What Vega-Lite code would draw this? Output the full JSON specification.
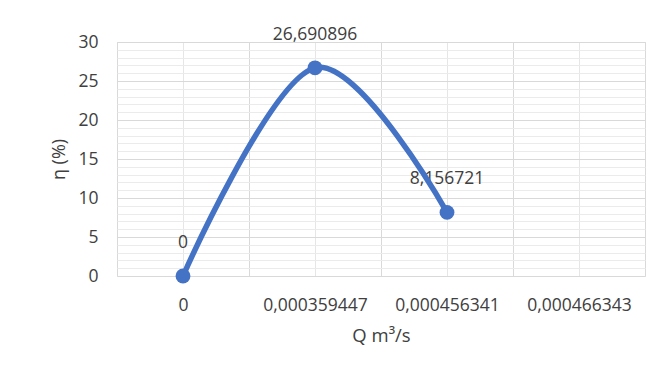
{
  "$schema": "https://vega.github.io/schema/vega-lite/v6.json",
  "width": 528,
  "height": 234,
  "autosize": "none",
  "padding": {"left": 117, "top": 42, "right": 24, "bottom": 113},
  "background": "white",
  "config": {
    "font": "Open Sans",
    "view": {"stroke": "#d9d9d9", "strokeWidth": 1},
    "axis": {"labelColor": "#404040", "titleColor": "#404040", "labelFontSize": 17.5, "titleFontWeight": "normal"}
  },
  "data": {
    "values": [
      {"Q": "0", "eta": 0, "label": "0"},
      {"Q": "0,000359447", "eta": 26.690896, "label": "26,690896"},
      {"Q": "0,000456341", "eta": 8.156721, "label": "8,156721"}
    ]
  },
  "layer": [
    {
      "mark": {"type": "text", "fontSize": 17.5, "color": "#404040", "dy": -33, "font": "Open Sans"},
      "encoding": {
        "x": {
          "field": "Q", "type": "nominal", "sort": null, "bandPosition": 0.5,
          "scale": {"type": "band", "domain": ["0", "0,000359447", "0,000456341", "0,000466343"], "paddingInner": 0, "paddingOuter": 0},
          "axis": {"orient": "bottom", "bandPosition": 0, "grid": true, "gridColor": "#d9d9d9", "gridWidth": 1, "labels": false, "ticks": false, "domain": false, "title": null}
        },
        "y": {
          "field": "eta", "type": "quantitative",
          "scale": {"domain": [0, 30], "nice": false, "zero": true},
          "axis": {"orient": "left", "values": [0,1,2,3,4,6,7,8,9,11,12,13,14,16,17,18,19,21,22,23,24,26,27,28,29], "grid": true, "gridColor": "#ebebeb", "gridWidth": 1, "labels": false, "ticks": false, "domain": false, "title": null}
        },
        "text": {"field": "label"}
      }
    },
    {
      "mark": {"type": "line", "interpolate": "cardinal", "color": "#4472C4", "strokeWidth": 5.5, "strokeCap": "round"},
      "encoding": {
        "x": {
          "field": "Q", "type": "nominal", "sort": null,
          "scale": {"type": "point", "domain": ["0", "0,000359447", "0,000456341", "0,000466343"], "padding": 0.5},
          "axis": {"orient": "bottom", "grid": true, "gridColor": "#e6e6e6", "gridWidth": 1, "ticks": false, "domain": false, "labelAngle": 0, "labelPadding": 20, "title": "Q m³/s", "titleFontSize": 18.5, "titlePadding": 13}
        },
        "y": {
          "field": "eta", "type": "quantitative",
          "scale": {"domain": [0, 30], "nice": false},
          "axis": null
        }
      }
    },
    {
      "mark": {"type": "point", "filled": true, "opacity": 1, "color": "#4472C4", "size": 220},
      "encoding": {
        "x": {
          "field": "Q", "type": "nominal", "sort": null,
          "scale": {"type": "point", "domain": ["0", "0,000359447", "0,000456341", "0,000466343"], "padding": 0.5},
          "axis": null
        },
        "y": {
          "field": "eta", "type": "quantitative",
          "scale": {"domain": [0, 30], "nice": false},
          "axis": {"orient": "left", "values": [0, 5, 10, 15, 20, 25, 30], "grid": true, "gridColor": "#d9d9d9", "gridWidth": 1, "ticks": false, "domain": false, "labelPadding": 19, "title": "η (%)", "titleFontSize": 18, "titlePadding": 9}
        }
      }
    }
  ],
  "resolve": {"scale": {"x": "independent"}, "axis": {"x": "independent", "y": "independent"}}
}
